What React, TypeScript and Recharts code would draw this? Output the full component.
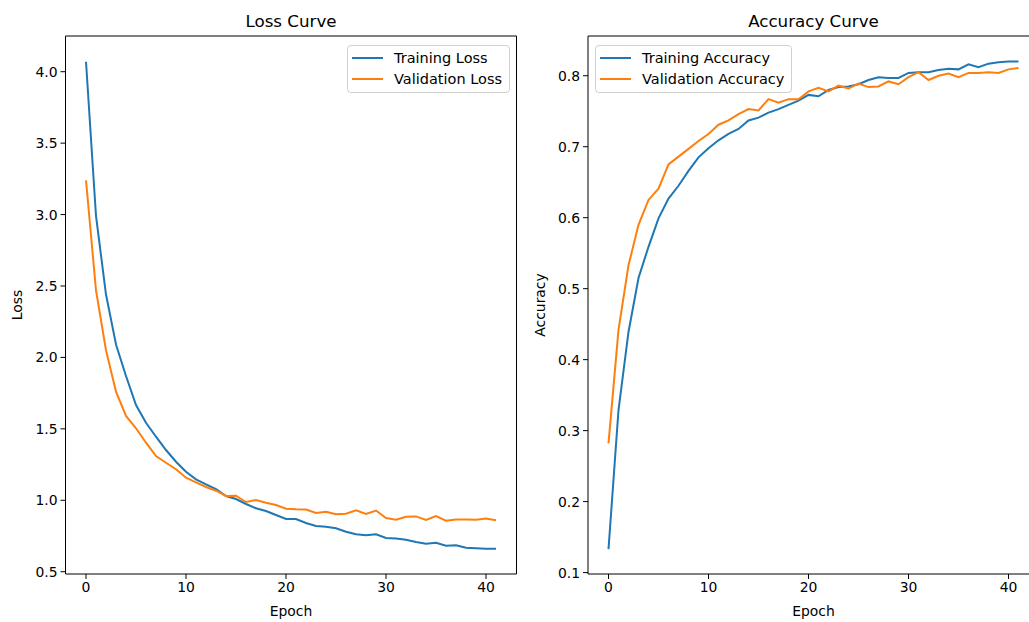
import { LineChart, Line, XAxis, YAxis, Legend, Label, ReferenceLine } from 'recharts'

const epochs = [
  0, 1, 2, 3, 4, 5, 6, 7, 8, 9, 10, 11, 12, 13, 14, 15, 16, 17, 18, 19, 20,
  21, 22, 23, 24, 25, 26, 27, 28, 29, 30, 31, 32, 33, 34, 35, 36, 37, 38, 39, 40, 41,
]

const trainLoss = [
  4.07, 2.99, 2.44, 2.09, 1.87, 1.667, 1.543, 1.445, 1.352, 1.27, 1.2, 1.147, 1.112, 1.079,
  1.03, 1.009, 0.974, 0.944, 0.925, 0.897, 0.869, 0.869, 0.841, 0.82, 0.815, 0.804, 0.78,
  0.762, 0.755, 0.762, 0.736, 0.733, 0.724, 0.708, 0.696, 0.703, 0.682, 0.685, 0.668, 0.664,
  0.661, 0.661,
]
const valLoss = [
  3.24, 2.47, 2.05, 1.76, 1.59, 1.504, 1.403, 1.31, 1.263, 1.217, 1.158, 1.126, 1.093, 1.067,
  1.03, 1.032, 0.988, 1.002, 0.983, 0.967, 0.941, 0.937, 0.935, 0.911, 0.92, 0.902, 0.906,
  0.93, 0.904, 0.928, 0.876, 0.864, 0.885, 0.887, 0.862, 0.89, 0.857, 0.866, 0.866, 0.864,
  0.873, 0.86,
]
const trainAcc = [
  0.133, 0.329, 0.439, 0.515, 0.559, 0.599, 0.627, 0.645, 0.666, 0.685, 0.698, 0.709, 0.718,
  0.725, 0.737, 0.741, 0.748, 0.753, 0.759, 0.765, 0.773, 0.771, 0.78, 0.784, 0.785, 0.788,
  0.794, 0.798, 0.797, 0.797, 0.804, 0.805, 0.805, 0.808, 0.81, 0.809, 0.816, 0.812, 0.817,
  0.819, 0.82, 0.82,
]
const valAcc = [
  0.282, 0.442, 0.533, 0.59, 0.625, 0.641, 0.675, 0.686, 0.697, 0.708, 0.718, 0.731, 0.737,
  0.746, 0.753, 0.751, 0.767, 0.762, 0.767, 0.767, 0.778, 0.783, 0.778, 0.786, 0.782, 0.789,
  0.784, 0.785, 0.792, 0.788, 0.798, 0.805, 0.794, 0.8, 0.803, 0.798, 0.804, 0.804, 0.805,
  0.804, 0.809, 0.811,
]

const epochTicks = [0, 10, 20, 30, 40]
const lossTicks = [0.5, 1.0, 1.5, 2.0, 2.5, 3.0, 3.5, 4.0]
const accTicks = [0.1, 0.2, 0.3, 0.4, 0.5, 0.6, 0.7, 0.8]

const FONT = '"DejaVu Sans", sans-serif'
const BLUE = '#1f77b4'
const ORANGE = '#ff7f0e'
const X_DOMAIN: [number, number] = [-2.05, 43.05]

interface LegendItem {
  label: string
  color: string
}

const CurveLegend = ({ items }: { items: LegendItem[] }) => (
  <div
    style={{
      background: 'rgba(255,255,255,0.8)',
      border: '1px solid #d0d0d0',
      borderRadius: 4,
      padding: '1px 4px 2px 3.5px',
      fontFamily: FONT,
      fontSize: 14.5,
      color: '#000',
      boxSizing: 'border-box',
    }}
  >
    {items.map((it) => (
      <div key={it.label} style={{ display: 'flex', alignItems: 'center', height: 21.6 }}>
        <span style={{ width: 31, height: 2, background: it.color, marginRight: 11.5, flexShrink: 0 }} />
        <span style={{ whiteSpace: 'nowrap' }}>{it.label}</span>
      </div>
    ))}
  </div>
)

interface CurveChartProps {
  left: number
  width: number
  yAxisWidth: number
  marginRight: number
  train: number[]
  val: number[]
  domain: [number, number]
  ticks: number[]
  title: string
  yLabel: string
  yLabelX: number
  legendLeft: number
  legendTop: number
  legendWidth: number
  names: [string, string]
}

const CurveChart = (p: CurveChartProps) => {
  const data = epochs.map((e, i) => ({ epoch: e, train: p.train[i], val: p.val[i] }))
  const plotLeft = p.yAxisWidth
  const plotRight = p.width - p.marginRight
  const center = (plotLeft + plotRight) / 2
  const axisStyle = { fontFamily: FONT, fontSize: 13.9, fill: '#000' }

  return (
    <div style={{ position: 'absolute', left: p.left, top: 0, width: p.width, height: 622 }}>
      <div
        style={{
          position: 'absolute',
          left: center,
          top: 11,
          transform: 'translateX(-50%)',
          fontFamily: FONT,
          fontSize: 16.7,
          whiteSpace: 'nowrap',
          color: '#000',
        }}
      >
        {p.title}
      </div>
      <LineChart
        width={p.width}
        height={622}
        data={data}
        margin={{ top: 36, right: p.marginRight, left: 0, bottom: 18 }}
      >
        <XAxis
          dataKey="epoch"
          type="number"
          domain={X_DOMAIN}
          ticks={epochTicks}
          allowDataOverflow
          height={30}
          tick={axisStyle}
          tickSize={5}
          tickMargin={3}
          axisLine={{ stroke: '#000', strokeWidth: 1 }}
          tickLine={{ stroke: '#000' }}
        >
          <Label
            content={() => (
              <text x={center} y={616} textAnchor="middle" style={{ fontFamily: FONT, fontSize: 13.9 }} fill="#000">
                Epoch
              </text>
            )}
          />
        </XAxis>
        <YAxis
          type="number"
          domain={p.domain}
          ticks={p.ticks}
          allowDataOverflow
          width={p.yAxisWidth}
          tick={axisStyle}
          tickFormatter={(v: number) => v.toFixed(1)}
          tickSize={5}
          tickMargin={3}
          axisLine={{ stroke: '#000', strokeWidth: 1 }}
          tickLine={{ stroke: '#000' }}
        >
          <Label
            content={() => (
              <text
                x={p.yLabelX}
                y={305}
                textAnchor="middle"
                dominantBaseline="central"
                transform={`rotate(-90 ${p.yLabelX} 305)`}
                style={{ fontFamily: FONT, fontSize: 13.9 }}
                fill="#000"
              >
                {p.yLabel}
              </text>
            )}
          />
        </YAxis>
        {/* top and right spines */}
        <ReferenceLine y={p.domain[1]} stroke="#000" strokeWidth={1} ifOverflow="visible" />
        <ReferenceLine x={X_DOMAIN[1]} stroke="#000" strokeWidth={1} ifOverflow="visible" />
        <Legend
          layout="horizontal"
          verticalAlign="middle"
          align="center"
          wrapperStyle={{ left: p.legendLeft, top: p.legendTop, width: p.legendWidth }}
          content={() => (
            <CurveLegend
              items={[
                { label: p.names[0], color: BLUE },
                { label: p.names[1], color: ORANGE },
              ]}
            />
          )}
        />
        <Line
          type="linear"
          dataKey="train"
          name={p.names[0]}
          stroke={BLUE}
          strokeWidth={2}
          dot={false}
          isAnimationActive={false}
        />
        <Line
          type="linear"
          dataKey="val"
          name={p.names[1]}
          stroke={ORANGE}
          strokeWidth={2}
          dot={false}
          isAnimationActive={false}
        />
      </LineChart>
    </div>
  )
}

export default function App() {
  return (
    <div
      style={{
        position: 'fixed',
        left: 0,
        top: 0,
        width: 1029,
        height: 622,
        overflow: 'hidden',
        background: '#fff',
      }}
    >
      <CurveChart
        left={0}
        width={530}
        yAxisWidth={65.5}
        marginRight={13.5}
        train={trainLoss}
        val={valLoss}
        domain={[0.484, 4.25]}
        ticks={lossTicks}
        title="Loss Curve"
        yLabel="Loss"
        yLabelX={17}
        legendLeft={347}
        legendTop={45}
        legendWidth={163}
        names={['Training Loss', 'Validation Loss']}
      />
      <CurveChart
        left={530}
        width={520}
        yAxisWidth={58}
        marginRight={11}
        train={trainAcc}
        val={valAcc}
        domain={[0.098, 0.856]}
        ticks={accTicks}
        title="Accuracy Curve"
        yLabel="Accuracy"
        yLabelX={10}
        legendLeft={65}
        legendTop={45}
        legendWidth={197}
        names={['Training Accuracy', 'Validation Accuracy']}
      />
    </div>
  )
}
